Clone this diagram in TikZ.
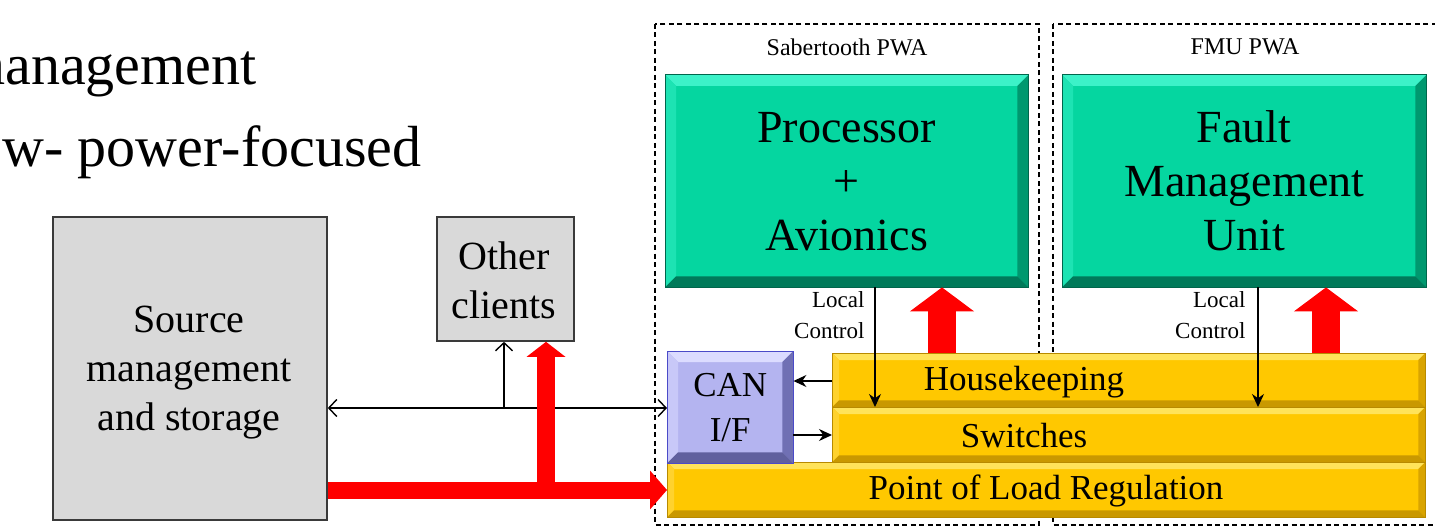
\documentclass[tikz,border=0pt]{standalone}
\usepackage{fontspec}
\setmainfont{Liberation Serif}
\usetikzlibrary{arrows.meta,calc}

\definecolor{boxgray}{HTML}{D9D9D9}
\definecolor{boxline}{HTML}{3A3A3A}
\definecolor{grnmain}{HTML}{05D6A0}
\definecolor{grntop}{HTML}{3CF2C8}
\definecolor{grnleft}{HTML}{1DE3B3}
\definecolor{grnright}{HTML}{00986F}
\definecolor{grnbot}{HTML}{007A5A}
\definecolor{grnline}{HTML}{00664C}
\definecolor{canmain}{HTML}{B4B4F0}
\definecolor{cantop}{HTML}{DCDCFF}
\definecolor{canleft}{HTML}{C8C8F8}
\definecolor{canright}{HTML}{7070B4}
\definecolor{canbot}{HTML}{60609E}
\definecolor{canline}{HTML}{4B4BC8}
\definecolor{ylwmain}{HTML}{FFC800}
\definecolor{ylwtop}{HTML}{FFE35A}
\definecolor{ylwleft}{HTML}{FFD22E}
\definecolor{ylwright}{HTML}{D9A400}
\definecolor{ylwbot}{HTML}{C99800}
\definecolor{ylwline}{HTML}{B88A00}
\definecolor{pwred}{HTML}{FF0000}

% raised frame around a named node: #1 node, #2 bevel width,
% #3 top, #4 left, #5 right, #6 bottom, #7 outline
\newcommand\bevelframe[7]{%
  \fill[#3] (#1.north west) -- (#1.north east) -- ($(#1.north east)+(-#2,#2)$) -- ($(#1.north west)+(#2,#2)$) -- cycle;
  \fill[#4] (#1.north west) -- ($(#1.north west)+(#2,#2)$) -- ($(#1.south west)+(#2,-#2)$) -- (#1.south west) -- cycle;
  \fill[#5] (#1.north east) -- ($(#1.north east)+(-#2,#2)$) -- ($(#1.south east)+(-#2,-#2)$) -- (#1.south east) -- cycle;
  \fill[#6] (#1.south west) -- ($(#1.south west)+(#2,-#2)$) -- ($(#1.south east)+(-#2,-#2)$) -- (#1.south east) -- cycle;
  \draw[#7, line width=1bp] (#1.north west) rectangle (#1.south east);
}

\begin{document}
\begin{tikzpicture}[x=1bp, y=-1bp,
  graybox/.style={draw=boxline, fill=boxgray, line width=1.8bp, inner sep=0pt, anchor=north west},
  graytext/.style={align=center, font=\fontsize{40bp}{49bp}\selectfont},
  pwa/.style={draw, dash pattern=on 5bp off 3.5bp, line width=1.4bp},
  pwatitle/.style={font=\fontsize{24bp}{28bp}\selectfont},
  unitbox/.style={fill=grnmain, inner sep=0pt, anchor=north west, align=center, font=\fontsize{46bp}{54bp}\selectfont},
  canbox/.style={fill=canmain, inner sep=0pt, anchor=north west, align=center, font=\fontsize{35bp}{45bp}\selectfont},
  bar/.style={fill=ylwmain, inner sep=0pt, anchor=north west},
  bartext/.style={font=\fontsize{35bp}{40bp}\selectfont},
  lctext/.style={anchor=east, align=right, font=\fontsize{23bp}{31bp}\selectfont},
  bullet/.style={anchor=base east, font=\fontsize{58bp}{70bp}\selectfont},
  ctl/.style={line width=1.4bp, -{Stealth[length=13bp,width=12bp]}},
  bus/.style={line width=1.4bp, {Straight Barb[length=8bp,width=17bp]}-{Straight Barb[length=8bp,width=17bp]}},
  busup/.style={line width=1.4bp, -{Straight Barb[length=8bp,width=17bp]}},
  power/.style={draw=pwred, line width=17bp, -{Triangle[length=17bp,width=38bp]}},
  powerup/.style={draw=pwred, line width=18bp, -{Triangle[length=15bp,width=38bp]}},
  feed/.style={draw=pwred, line width=28bp, -{Triangle[length=24bp,width=63bp]}}
]
\useasboundingbox (0,0) rectangle (1435,531);
\clip (0,0) rectangle (1435,531);

% slide text running in from the left
\node[bullet] (t1) at (260,85) {management};
\node[bullet] (t2) at (425,167) {ow- power-focused};

% external blocks
\node[graybox, minimum width=274bp, minimum height=303bp] (src) at (52,216) {};
\node[graytext] (srct) at (189,373) {Source\\management\\and storage};
\node[graybox, minimum width=137bp, minimum height=124bp] (oth) at (436,216) {};
\node[graytext] (otht) at (504,280) {Other\\clients};

% board outlines
\draw[pwa] (655,24) rectangle (1039,525);
\draw[pwa] (1053,24) rectangle (1445,525);
\node[pwatitle] (sabt) at (847,47) {Sabertooth PWA};
\node[pwatitle] (fmut) at (1245,47) {FMU PWA};

% processing units
\node[unitbox, minimum width=363bp, minimum height=212bp] (proc) at (665,75) {Processor\\+\\Avionics};
\bevelframe{proc}{11}{grntop}{grnleft}{grnright}{grnbot}{grnline}
\node[unitbox, minimum width=364bp, minimum height=212bp] (fmu) at (1062,75) {Fault\\Management\\Unit};
\bevelframe{fmu}{11}{grntop}{grnleft}{grnright}{grnbot}{grnline}

% power layers
\node[bar, minimum width=758bp, minimum height=55bp] (pol) at (667,462) {};
\bevelframe{pol}{7}{ylwtop}{ylwleft}{ylwright}{ylwbot}{ylwline}
\node[bar, minimum width=593bp, minimum height=55bp] (sw) at (832,407) {};
\bevelframe{sw}{7}{ylwtop}{ylwleft}{ylwright}{ylwbot}{ylwline}
\node[bar, minimum width=593bp, minimum height=54bp] (hk) at (832,353) {};
\bevelframe{hk}{7}{ylwtop}{ylwleft}{ylwright}{ylwbot}{ylwline}
\node[bartext] (hkt) at (1024,382) {Housekeeping};
\node[bartext] (swt) at (1024,436) {Switches};
\node[bartext] (polt) at (1046,491) {Point of Load Regulation};

% CAN interface
\node[canbox, minimum width=126bp, minimum height=112bp] (can) at (667,351) {CAN\\I/F};
\bevelframe{can}{11}{cantop}{canleft}{canright}{canbot}{canline}

% local control lines
\coordinate (lcA) at (875,0);
\coordinate (lcB) at (1258,0);
\node[lctext] (lc1) at (868,315) {Local\\Control};
\node[lctext] (lc2) at (1249,315) {Local\\Control};
\draw[ctl] (proc.south -| lcA) -- (sw.north -| lcA);
\draw[ctl] (fmu.south -| lcB) -- (sw.north -| lcB);

% CAN links to the layers
\coordinate (yA) at (0,381);
\coordinate (yB) at (0,435);
\draw[ctl] (hk.west |- yA) -- (can.east |- yA);
\draw[ctl] (can.east |- yB) -- (sw.west |- yB);

% data bus
\coordinate (busy) at (0,408);
\coordinate (br) at (504,408);
\draw[bus] (src.east |- busy) -- (can.west |- busy);
\draw[busup] (br) -- (oth.south -| br);

% power distribution
\coordinate (pwy) at (0,490);
\coordinate (pwup) at (546,498);
\draw[power] (src.east |- pwy) -- (pol.west |- pwy);
\draw[powerup] (pwup) -- (oth.south -| pwup);
\coordinate (fA) at (942,0);
\coordinate (fB) at (1326,0);
\draw[feed] (hk.north -| fA) -- (proc.south -| fA);
\draw[feed] (hk.north -| fB) -- (fmu.south -| fB);
\end{tikzpicture}
\end{document}
